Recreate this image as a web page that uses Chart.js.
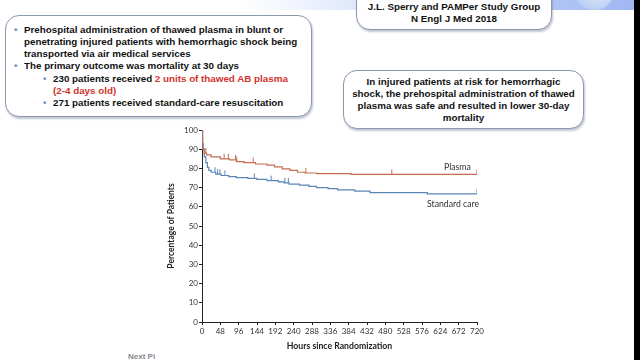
<!DOCTYPE html>
<html>
<head>
<meta charset="utf-8">
<script src="https://cdn.jsdelivr.net/npm/chart.js@4"></script>
<style>
  html, body { margin:0; padding:0; }
  body { width:640px; height:360px; position:relative; overflow:hidden; background:#fff; font-family:"Liberation Sans", Arial, sans-serif; }
  .box { position:absolute; border:1.3px solid #8a98b0; border-radius:14px; box-shadow:1px 2px 2px rgba(120,130,150,0.45); background:#fff; font-weight:bold; color:#111; font-size:9.8px; }
  .bul { position:absolute; color:#6b87b8; }
  .ln { position:absolute; white-space:nowrap; }
  .red { color:#d0342c; }
  #topband { position:absolute; left:240px; top:0; width:396px; height:10px; background:linear-gradient(to right, rgba(255,255,255,0), #dfe7fb 30%, #b9cbf5 70%, #9fb6f2); }
  #logo { position:absolute; left:574px; top:-28px; width:40px; height:38px; border-radius:50%; background:radial-gradient(circle at 60% 40%, #e6eefc, #a9c2ee); }
  #rbar { position:absolute; left:634px; top:0; width:6px; height:360px; background:#000; }
  #chartwrap { position:absolute; left:160px; top:118px; width:330px; height:242px; }
  .clab { position:absolute; font-family:Lato, "Open Sans", sans-serif; font-size:8.7px; color:#333; white-space:nowrap; }
</style>
</head>
<body>
<div id="topband"></div>
<div id="logo"></div>
<div id="rbar"></div>

<div class="box" style="left:5px; top:15px; width:305px; height:100px;">
  <span class="bul" style="left:8px; top:8px;">•</span>
  <span class="ln" style="left:18px; top:8px;">Prehospital administration of thawed plasma in blunt or</span>
  <span class="ln" style="left:18px; top:20px;">penetrating injured patients with hemorrhagic shock being</span>
  <span class="ln" style="left:18px; top:32px;">transported via air medical services</span>
  <span class="bul" style="left:8px; top:44px;">•</span>
  <span class="ln" style="left:18px; top:44px;">The primary outcome was mortality at 30 days</span>
  <span class="bul" style="left:37px; top:57px;">•</span>
  <span class="ln" style="left:47px; top:57px;">230 patients received <span class="red">2 units of thawed AB plasma</span></span>
  <span class="ln red" style="left:47px; top:69px;">(2-4 days old)</span>
  <span class="bul" style="left:37px; top:81px;">•</span>
  <span class="ln" style="left:47px; top:81px;">271 patients received standard-care resuscitation</span>
</div>

<div class="box" style="left:356px; top:-14px; width:194px; height:42px; text-align:center;">
  <div style="position:absolute; left:0; right:0; top:14px; line-height:12px;">J.L. Sperry and PAMPer Study Group<br>N Engl J Med 2018</div>
</div>

<div class="box" style="left:343px; top:70px; width:239px; height:57px; text-align:center;">
  <div style="position:absolute; left:0; right:0; top:5px; line-height:12px;">In injured patients at risk for hemorrhagic<br>shock, the prehospital administration of thawed<br>plasma was safe and resulted in lower 30-day<br>mortality</div>
</div>

<div id="chartwrap"><canvas id="c" width="330" height="242"></canvas></div>
<div class="clab" style="left:444px; top:161px;">Plasma</div>
<div class="clab" style="left:427px; top:198px;">Standard care</div>

<div style="position:absolute; left:128px; top:352px; font-size:8px; font-weight:bold; color:#888; white-space:nowrap;">Next Pi</div>

<script>
// Hours at which each step occurs, and the percentage after the step
const plasmaHours = [0, 1, 3, 6, 12, 24, 48, 72, 90, 110, 140, 170, 190, 210, 230, 250, 270, 300, 390, 720];
const plasmaPct   = [100, 93, 90, 88, 87, 86, 85, 84.4, 83.5, 83, 82.3, 81.7, 80.8, 79.8, 79, 78, 77.6, 77.3, 76.9, 76.9];
const standardHours = [0, 2, 6, 10, 14, 18, 24, 36, 50, 70, 90, 120, 144, 170, 200, 215, 228, 255, 280, 300, 330, 355, 400, 440, 590, 720];
const standardPct   = [100, 90, 86, 83, 80.5, 79, 78, 77, 76.3, 75.7, 75.2, 74.8, 74.3, 73.6, 73, 72.5, 71.8, 71.3, 70.6, 70, 69.5, 68.8, 68.2, 67.4, 66.7, 66.7];
// Censoring marks (hours)
const plasmaCensor = [10, 58, 69, 88, 91, 134, 272, 497, 720];
const standardCensor = [34, 41, 47, 60, 137, 181, 217, 226, 720];
const xTicks = [0, 48, 96, 144, 192, 240, 288, 336, 384, 432, 480, 528, 576, 624, 672, 720];
const yTicks = [0, 10, 20, 30, 40, 50, 60, 70, 80, 90, 100];

const plasmaColor = '#c46e4e';
const standardColor = '#5b86b8';

function pts(h, v) { return h.map((x, i) => ({ x: x, y: v[i] })); }
function stepAt(h, v, t) {
  let val = v[0];
  for (let i = 0; i < h.length; i++) { if (h[i] <= t) val = v[i]; }
  return val;
}
function censorPts(c, h, v) { return c.map(t => ({ x: t, y: stepAt(h, v, t) + 1.3 })); }

const chartFont = "Lato, 'Open Sans', sans-serif";

new Chart(document.getElementById('c'), {
  type: 'line',
  data: {
    datasets: [
      { data: pts(plasmaHours, plasmaPct), borderColor: plasmaColor, borderWidth: 1.2, stepped: 'before', pointRadius: 0, fill: false },
      { data: pts(standardHours, standardPct), borderColor: standardColor, borderWidth: 1.2, stepped: 'before', pointRadius: 0, fill: false },
      { data: censorPts(plasmaCensor, plasmaHours, plasmaPct), showLine: false, pointStyle: 'line', rotation: 90, pointRadius: 2.5, borderColor: plasmaColor, borderWidth: 1, pointHoverRadius: 0 },
      { data: censorPts(standardCensor, standardHours, standardPct), showLine: false, pointStyle: 'line', rotation: 90, pointRadius: 2.5, borderColor: standardColor, borderWidth: 1, pointHoverRadius: 0 }
    ]
  },
  options: {
    responsive: false,
    animation: false,
    events: [],
    layout: { padding: { top: 12, right: 13, left: 0, bottom: 0 } },
    plugins: { legend: { display: false }, tooltip: { enabled: false } },
    scales: {
      x: {
        type: 'linear', min: 0, max: 720,
        afterBuildTicks: s => { s.ticks = xTicks.map(v => ({ value: v })); },
        afterFit: s => { s.height = 38; },
        border: { color: '#222', width: 1 },
        grid: { drawOnChartArea: false, tickLength: 3, tickColor: '#222' },
        ticks: { font: { family: chartFont, size: 8 }, color: '#333', padding: 2, maxRotation: 0, autoSkip: false },
        title: { display: true, text: 'Hours since Randomization', font: { family: chartFont, size: 8.7, weight: 'bold' }, color: '#222', padding: { top: 0, bottom: 8.3 } }
      },
      y: {
        min: 0, max: 100,
        afterBuildTicks: s => { s.ticks = yTicks.map(v => ({ value: v })); },
        afterFit: s => { s.width = 42; },
        border: { color: '#222', width: 1 },
        grid: { drawOnChartArea: false, tickLength: 3, tickColor: '#222' },
        ticks: { font: { family: chartFont, size: 8 }, color: '#333', padding: 1, autoSkip: false },
        title: { display: true, text: 'Percentage of Patients', font: { family: chartFont, size: 8.5, weight: 'bold' }, color: '#222', padding: { top: 6, bottom: 0 } }
      }
    }
  }
});
</script>
</body>
</html>
